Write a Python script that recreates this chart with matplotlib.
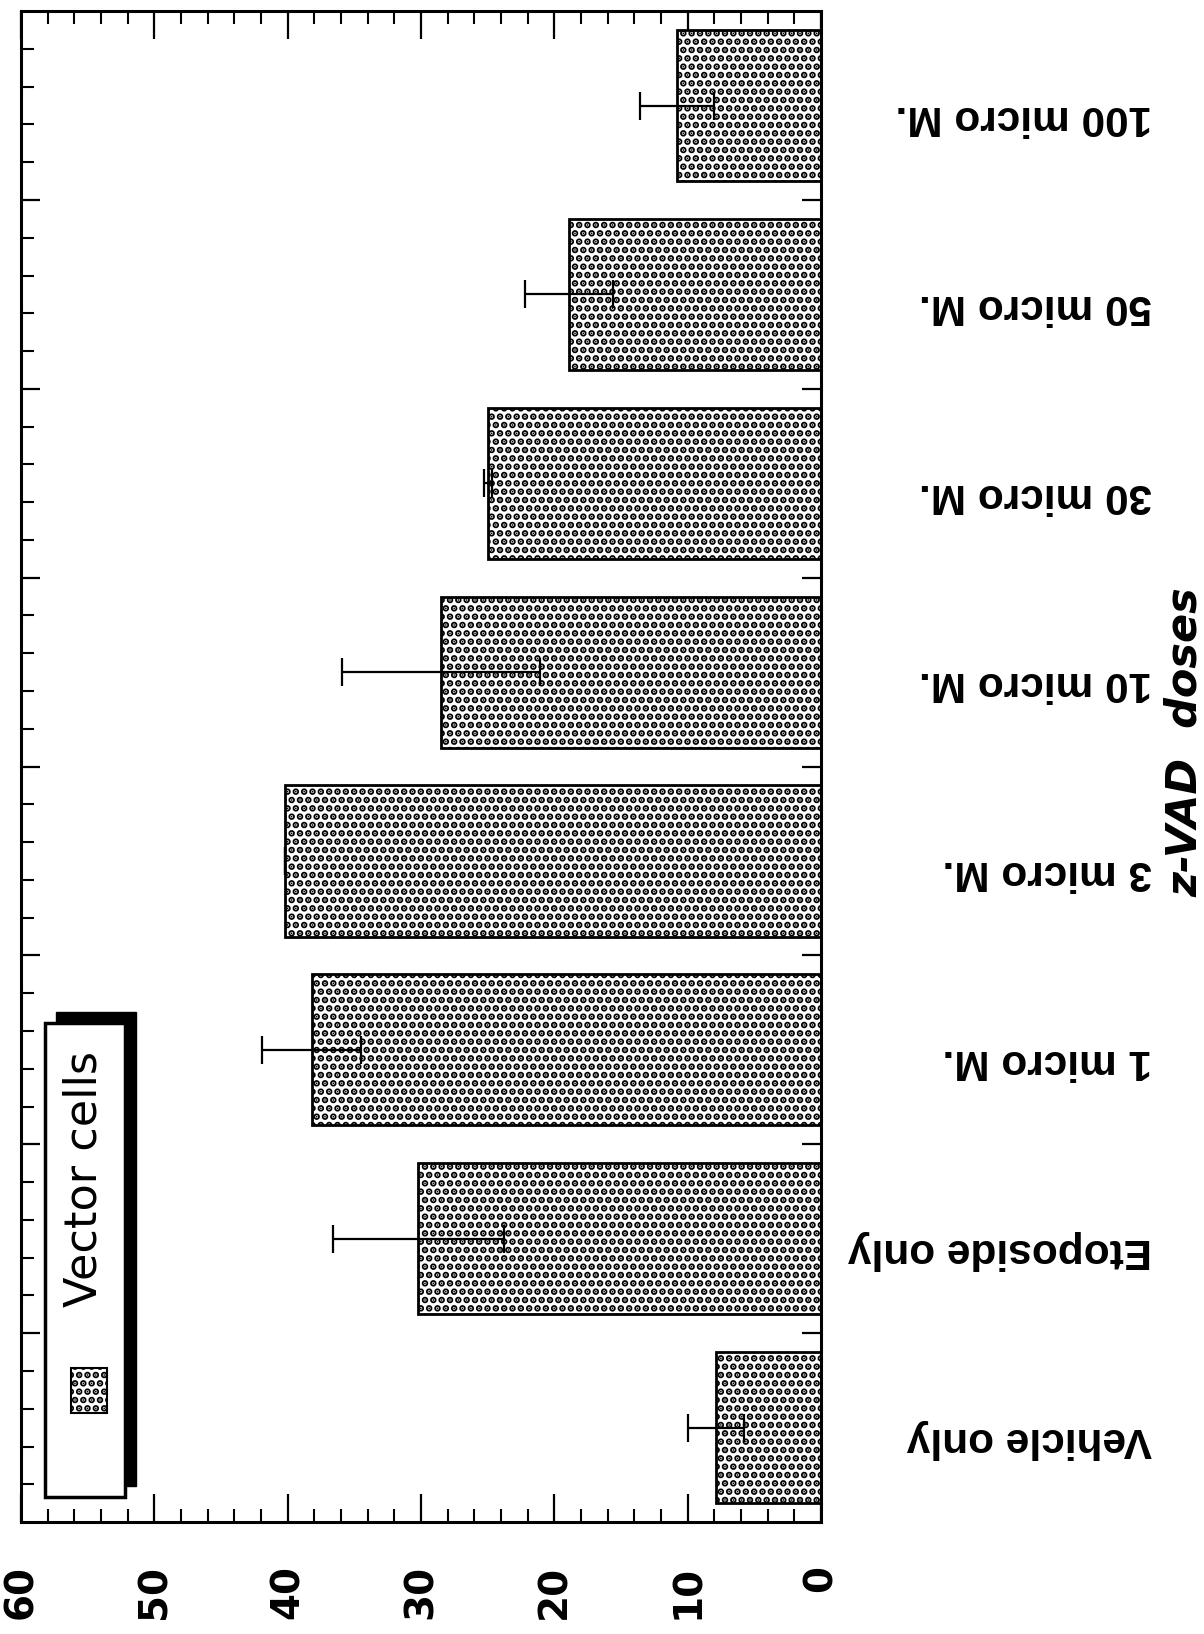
import numpy as np
import matplotlib.pyplot as plt
import matplotlib.transforms as mtransforms
from matplotlib.patches import Rectangle
from matplotlib.ticker import FixedLocator, MultipleLocator

plt.rcParams['font.family'] = ['DejaVu Sans']
plt.rcParams['hatch.linewidth'] = 3.4

##############
# data
##############

doses = ['Vehicle only', 'Etoposide only', '1 micro M.', '3 micro M.',
         '10 micro M.', '30 micro M.', '50 micro M.', '100 micro M.']
values = [7.9, 30.2, 38.2, 40.2, 28.5, 25.0, 18.9, 10.8]
errors = [2.1, 6.4, 3.7, 0.0, 7.4, 0.3, 3.3, 2.8]
value_ticks = [0, 10, 20, 30, 40, 50, 60]

##############
# figure (page is turned on its side)
##############

fig = plt.figure(figsize=(12.04, 16.34), dpi=100)
ax = fig.add_axes([0.0174, 0.0685, 0.6645, 0.9247])

pos = np.arange(len(doses))
ax.barh(pos, values, height=0.8, color='white', edgecolor='black',
        linewidth=2, hatch='..', zorder=2)
ax.errorbar(values, pos, xerr=errors, fmt='none', ecolor='black',
            elinewidth=1.6, capsize=10, capthick=1.6, zorder=3)

ax.set_xlim(60, 0)
ax.set_ylim(-0.5, 7.5)

# value axis
ax.xaxis.set_major_locator(FixedLocator(value_ticks))
ax.xaxis.set_minor_locator(MultipleLocator(2))
ax.tick_params(axis='x', which='both', direction='in', top=True, bottom=True)
ax.tick_params(axis='x', which='major', length=20, width=1.6, pad=31,
               labelsize=28, labelrotation=90)
ax.tick_params(axis='x', which='minor', length=9.5, width=1.5)
for lab in ax.get_xticklabels():
    lab.set_fontweight('bold')

# category axis: ticks between the groups
ax.yaxis.set_major_locator(FixedLocator(np.arange(0.5, 7, 1)))
ax.yaxis.set_minor_locator(FixedLocator(np.arange(-0.3, 7.4, 0.2)))
ax.tick_params(axis='y', which='major', direction='in', left=True, right=True,
               length=14, width=1.6, labelleft=False)
ax.tick_params(axis='y', which='minor', direction='in', left=True, right=False,
               length=9.5, width=1.5)

for sp in ax.spines.values():
    sp.set_linewidth(2.2)

trans = mtransforms.blended_transform_factory(fig.transFigure, ax.transData)
for p, name in zip(pos, doses):
    ax.text(0.957, p - 0.06, name, transform=trans, rotation=180, ha='right',
            va='center', fontsize=30.5, fontweight='bold',
            family='Liberation Sans')

fig.text(0.984, 0.546, 'z-VAD  doses', rotation=90, ha='center', va='center',
         fontsize=31, fontweight='bold', fontstyle='italic')

# legend box with heavy shadow
ax.add_patch(Rectangle((0.0438, 0.0238), 0.100, 0.3137, transform=ax.transAxes,
                       facecolor='black', edgecolor='black', zorder=4))
ax.add_patch(Rectangle((0.030, 0.0165), 0.100, 0.3137, transform=ax.transAxes,
                       facecolor='white', edgecolor='black', linewidth=2.5, zorder=5))
ax.add_patch(Rectangle((0.0625, 0.072), 0.045, 0.030, transform=ax.transAxes,
                       facecolor='white', edgecolor='black', linewidth=1.5,
                       hatch='..', zorder=6))
ax.text(0.079, 0.227, 'Vector cells', transform=ax.transAxes, rotation=90,
        ha='center', va='center', fontsize=32, zorder=6)

plt.savefig('out.png', dpi=100)
